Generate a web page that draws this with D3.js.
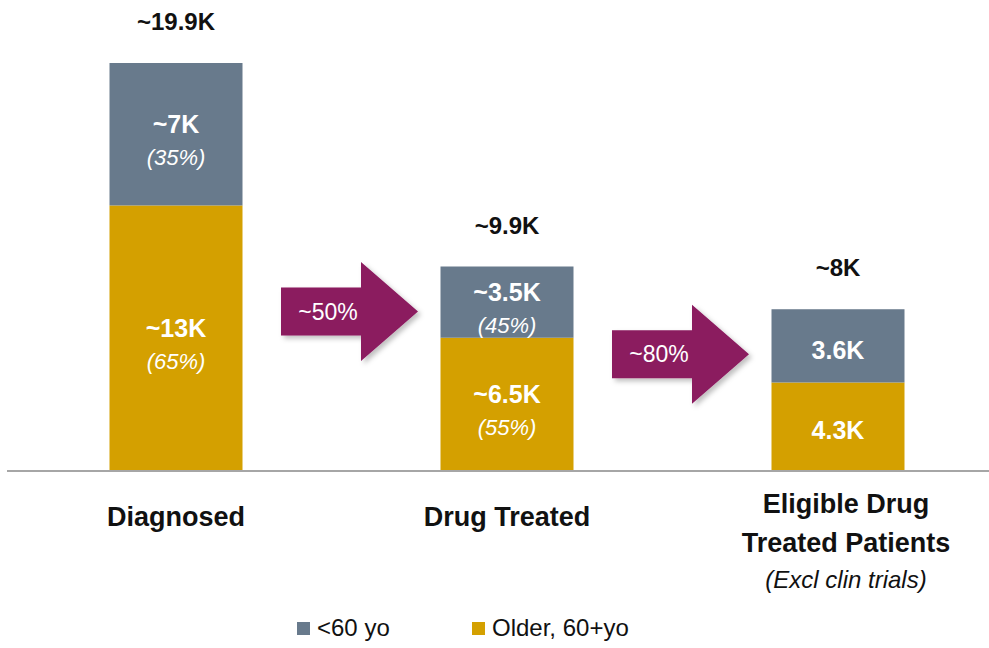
<!DOCTYPE html>
<html>
<head>
<meta charset="utf-8">
<script src="https://cdn.jsdelivr.net/npm/d3@7"></script>
<style>
	body { margin: 0; background: #fff; }
	text { font-family: "Liberation Sans", Arial, sans-serif; }
</style>
</head>
<body>
<div id="chart"></div>
<script>

// data
var stages = ["Diagnosed", "Drug Treated", "Eligible"];
var under60 = [7, 3.5, 3.6];
var over60 = [13, 6.5, 4.3];
var totalLabels = ["~19.9K", "~9.9K", "~8K"];
var under60Labels = ["~7K", "~3.5K", "3.6K"];
var under60Pct = ["(35%)", "(45%)", ""];
var over60Labels = ["~13K", "~6.5K", "4.3K"];
var over60Pct = ["(65%)", "(55%)", ""];
var stageLines = [["Diagnosed"], ["Drug Treated"], ["Eligible Drug", "Treated Patients"]];
var stageNotes = ["", "", "(Excl clin trials)"];
var conversion = ["~50%", "~80%"];
var legendNames = ["<60 yo", "Older, 60+yo"];

// colours
var grey = "#687a8c",
	gold = "#d4a000",
	plum = "#8b1a5f";

var width = 989,
	height = 648,
	baseline = 470,
	barwidth = 133;

var svg = d3.select("#chart")
	.append("svg")
	.attr("width", width)
	.attr("height", height);

// soft shadow for the arrows
var defs = svg.append("defs");
var shadow = defs.append("filter")
	.attr("id", "shadow")
	.attr("x", "-20%").attr("y", "-20%")
	.attr("width", "150%").attr("height", "150%");
shadow.append("feDropShadow")
	.attr("dx", 3).attr("dy", 3)
	.attr("stdDeviation", 2.5)
	.attr("flood-color", "#000")
	.attr("flood-opacity", 0.25);

var x = d3.scalePoint()
	.domain(stages)
	.range([176, 838]);

var y = d3.scaleLinear()
	.domain([0, 20])
	.range([baseline, 63]);

var rows = stages.map(function(s, i){

	return {stage: s, i: i, under: under60[i], over: over60[i], total: under60[i] + over60[i]};
});

// baseline
svg.append("line")
	.attr("x1", 7).attr("x2", width)
	.attr("y1", baseline + 1).attr("y2", baseline + 1)
	.attr("stroke", "#a6a6a6")
	.attr("stroke-width", 2);

var bars = svg.append("g")
	.selectAll("g")
	.data(rows)
	.enter()
	.append("g");

// older patients (bottom)
bars.append("rect")
	.attr("x", function(d){ return x(d.stage) - barwidth / 2; })
	.attr("y", function(d){ return y(d.over); })
	.attr("width", barwidth)
	.attr("height", function(d){ return y(0) - y(d.over); })
	.attr("fill", gold);

// younger patients (top)
bars.append("rect")
	.attr("x", function(d){ return x(d.stage) - barwidth / 2; })
	.attr("y", function(d){ return y(d.total); })
	.attr("width", barwidth)
	.attr("height", function(d){ return y(d.over) - y(d.total); })
	.attr("fill", grey);

// totals above bars
bars.append("text")
	.attr("x", function(d){ return x(d.stage); })
	.attr("y", function(d){ return y(d.total) - 33; })
	.attr("text-anchor", "middle")
	.attr("font-size", 24)
	.attr("font-weight", "bold")
	.attr("fill", "#111")
	.text(function(d){ return totalLabels[d.i]; });

// segment labels
function segLabel(sel, lo, hi, labels, pcts){

	sel.each(function(d){

		var g = d3.select(this),
			mid = (y(lo(d)) + y(hi(d))) / 2,
			hasPct = pcts[d.i] !== "";

		g.append("text")
			.attr("x", x(d.stage))
			.attr("y", hasPct ? mid - 1 : mid + 13)
			.attr("text-anchor", "middle")
			.attr("font-size", 25)
			.attr("font-weight", "bold")
			.attr("fill", "#fff")
			.text(labels[d.i]);

		if (hasPct) {
			g.append("text")
				.attr("x", x(d.stage))
				.attr("y", mid + 31)
				.attr("text-anchor", "middle")
				.attr("font-size", 22)
				.attr("font-style", "italic")
				.attr("fill", "#fff")
				.text(pcts[d.i]);
		}
	});
}

segLabel(bars, function(d){ return 0; }, function(d){ return d.over; }, over60Labels, over60Pct);
segLabel(bars, function(d){ return d.over; }, function(d){ return d.total; }, under60Labels, under60Pct);

// category labels
bars.each(function(d){

	var g = d3.select(this),
		lines = stageLines[d.i],
		top = lines.length > 1 ? 513 : 526;

	lines.forEach(function(l, k){

		g.append("text")
			.attr("x", x(d.stage) + (lines.length > 1 ? 8 : 0))
			.attr("y", top + k * 39)
			.attr("text-anchor", "middle")
			.attr("font-size", 27)
			.attr("font-weight", "bold")
			.attr("fill", "#111")
			.text(l);
	});

	if (stageNotes[d.i] !== "") {
		g.append("text")
			.attr("x", x(d.stage) + 8)
			.attr("y", top + lines.length * 39 - 3)
			.attr("text-anchor", "middle")
			.attr("font-size", 24)
			.attr("font-style", "italic")
			.attr("fill", "#111")
			.text(stageNotes[d.i]);
	}
});

// conversion arrows between bars
var arrowlen = 137,
	headlen = 57,
	bodyh = 48,
	headh = 99;

var arrows = svg.append("g")
	.selectAll("g")
	.data(conversion)
	.enter()
	.append("g")
	.attr("transform", function(d, i){

		var left = x(stages[i]) + barwidth / 2,
			right = x(stages[i + 1]) - barwidth / 2,
			cx = (left + right) / 2 + 8,
			cy = y(rows[i + 1].total) + 45;
		return "translate(" + (cx - arrowlen / 2) + "," + cy + ")";
	});

arrows.append("path")
	.attr("d", function(){

		var b = arrowlen - headlen;
		return "M0," + (-bodyh / 2) +
			"H" + b + "V" + (-headh / 2) +
			"L" + arrowlen + ",0" +
			"L" + b + "," + (headh / 2) +
			"V" + (bodyh / 2) + "H0Z";
	})
	.attr("fill", plum)
	.attr("filter", "url(#shadow)");

arrows.append("text")
	.attr("x", (arrowlen - headlen) / 2 + 7)
	.attr("y", 8)
	.attr("text-anchor", "middle")
	.attr("font-size", 23)
	.attr("fill", "#fff")
	.text(function(d){ return d; });

// legend
var legend = svg.append("g")
	.selectAll("g")
	.data(legendNames)
	.enter()
	.append("g")
	.attr("transform", function(d, i){

		return "translate(" + (297 + i * 175) + ",622)";
	});

legend.append("rect")
	.attr("width", 13)
	.attr("height", 13)
	.attr("fill", function(d, i){ return i === 0 ? grey : gold; });

legend.append("text")
	.attr("x", 20)
	.attr("y", 14)
	.attr("font-size", 24)
	.attr("fill", "#111")
	.text(function(d){ return d; });

</script>
</body>
</html>
